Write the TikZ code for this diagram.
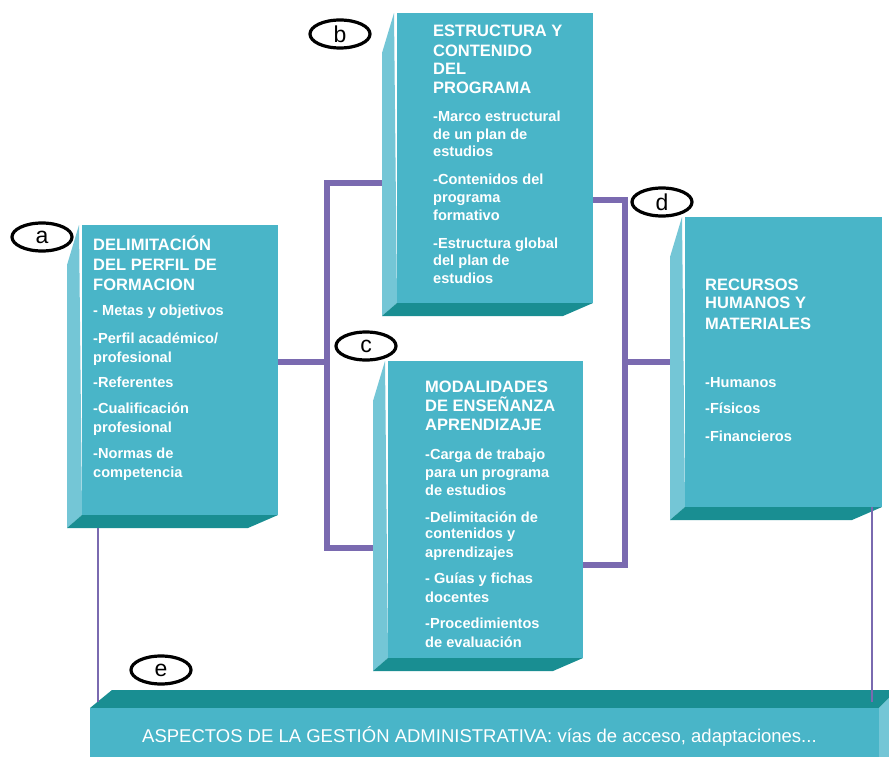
\documentclass[tikz,border=0pt]{standalone}
\usepackage{fontspec}
\setmainfont{Liberation Sans}
\usetikzlibrary{shapes.geometric}
\definecolor{frontc}{RGB}{73,181,200}
\definecolor{sidec}{RGB}{116,198,214}
\definecolor{bottomc}{RGB}{25,142,146}
\definecolor{connc}{RGB}{122,106,176}
\tikzset{
  frontface/.style={fill=frontc, draw=none, inner sep=0pt, outer sep=0pt},
  sideface/.style={fill=sidec},
  bottomface/.style={fill=bottomc},
  connline/.style={draw=connc, line width=5.5pt},
  thinconn/.style={draw=connc, line width=1.8pt},
  lab/.style={ellipse, draw=black, line width=3.2pt, fill=white, inner sep=0pt,
    minimum width=60pt, minimum height=28pt, font=\fontsize{23}{23}\selectfont},
  ttl/.style={anchor=base west, inner sep=0pt, text=white, font=\bfseries\fontsize{16.5}{18}\selectfont},
  itm/.style={anchor=base west, inner sep=0pt, text=white, font=\bfseries\fontsize{14.6}{16}\selectfont},
  bartext/.style={anchor=base west, inner sep=0pt, text=white, font=\fontsize{18.5}{20}\selectfont}
}
\newcommand\prismbox[5]{%
  \fill[sideface] (#2-3,#3) -- (#2-15,#3+40) -- (#2-15,#5+13) -- (#2,#5) -- cycle;
  \fill[bottomface] (#2,#5) -- (#4,#5) -- (#4-30,#5+13) -- (#2-15,#5+13) -- cycle;
  \node[frontface, minimum width={(#4-#2)*1pt}, minimum height={(#5-#3)*1pt}] (#1) at ({(#2+#4)/2},{(#3+#5)/2}) {};
}
\begin{document}
\begin{tikzpicture}[x=1pt,y=-1pt]
\useasboundingbox[fill=white] (0,0) rectangle (889,757);

% boxes
\prismbox{a}{82}{225}{278}{515}
\prismbox{b}{397}{13}{593}{303}
\prismbox{c}{388}{361}{583}{658}
\prismbox{d}{685}{217}{882}{507}

% bottom bar
\fill[bottomface] (90,708) -- (112,690) -- (889,690) -- (889,698) -- (879,708) -- cycle;
\fill[sideface] (879,708) -- (889,698) -- (889,757) -- (879,757) -- cycle;
\node[frontface, minimum width=789pt, minimum height=49pt] (e) at (484.5,732.5) {};

% connectors
\coordinate (lt) at (327,183);
\coordinate (lm) at (327,362);
\coordinate (lb) at (327,548);
\coordinate (rt) at (625,200);
\coordinate (rm) at (625,362);
\coordinate (rb) at (625,565);
\draw[connline] ([xshift=-15pt,yshift=-25pt]b.west) -- (lt) -- (lb) -- ([xshift=-15pt,yshift=-38.5pt]c.west);
\draw[connline] ([yshift=8pt]a.east) -- (lm);
\draw[connline] ([yshift=-42pt]b.east) -- (rt) -- (rb) -- ([yshift=-55.5pt]c.east);
\draw[connline] (rm) -- ([xshift=-15pt]d.west);
\draw[thinconn] ([xshift=16pt,yshift=-13pt]a.south west) -- ++(0,174);
\draw[thinconn] ([xshift=-10pt]d.south east) -- ++(0,195);

% labels
\node[lab] (la) at (42,237) {a};
\node[lab] (lbl) at (340,34) {b};
\node[lab] (lc) at (366,346) {c};
\node[lab] (ld) at (662,202) {d};
\node[lab] (le) at (161,670) {e};

% box a text
\node[ttl] (a1) at (93,250) {DELIMITACIÓN};
\node[ttl] (a2) at (93,270) {DEL PERFIL DE};
\node[ttl] (a3) at (93,290) {FORMACION};
\node[itm] (a4) at (93,315) {- Metas y objetivos};
\node[itm] (a5) at (93,343) {-Perfil académico/};
\node[itm] (a6) at (93,362) {profesional};
\node[itm] (a7) at (93,387) {-Referentes};
\node[itm] (a8) at (93,413) {-Cualificación};
\node[itm] (a9) at (93,432) {profesional};
\node[itm] (a10) at (93,458) {-Normas de};
\node[itm] (a11) at (93,477) {competencia};

% box b text
\node[ttl] (b1) at (433,37) {ESTRUCTURA Y};
\node[ttl] (b2) at (433,57) {CONTENIDO};
\node[ttl] (b3) at (433,75) {DEL};
\node[ttl] (b4) at (433,94) {PROGRAMA};
\node[itm] (b5) at (433,122) {-Marco estructural};
\node[itm] (b6) at (433,140) {de un plan de};
\node[itm] (b7) at (433,157) {estudios};
\node[itm] (b8) at (433,185) {-Contenidos del};
\node[itm] (b9) at (433,202) {programa};
\node[itm] (b10) at (433,220) {formativo};
\node[itm] (b11) at (433,248) {-Estructura global};
\node[itm] (b12) at (433,265) {del plan de};
\node[itm] (b13) at (433,283) {estudios};

% box c text
\node[ttl] (c1) at (425,392) {MODALIDADES};
\node[ttl] (c2) at (425,411) {DE ENSEÑANZA};
\node[ttl] (c3) at (425,430) {APRENDIZAJE};
\node[itm] (c4) at (425,459) {-Carga de trabajo};
\node[itm] (c5) at (425,477) {para un programa};
\node[itm] (c6) at (425,495) {de estudios};
\node[itm] (c7) at (425,522) {-Delimitación de};
\node[itm] (c8) at (425,538) {contenidos y};
\node[itm] (c9) at (425,557) {aprendizajes};
\node[itm] (c10) at (425,583) {- Guías y fichas};
\node[itm] (c11) at (425,602) {docentes};
\node[itm] (c12) at (425,628) {-Procedimientos};
\node[itm] (c13) at (425,647) {de evaluación};

% box d text
\node[ttl] (d1) at (705,290) {RECURSOS};
\node[ttl] (d2) at (705,308) {HUMANOS Y};
\node[ttl] (d3) at (705,329) {MATERIALES};
\node[itm] (d4) at (705,387) {-Humanos};
\node[itm] (d5) at (705,413) {-Físicos};
\node[itm] (d6) at (705,441) {-Financieros};

% bar text
\node[bartext] (et) at (142,742) {ASPECTOS DE LA GESTIÓN ADMINISTRATIVA: vías de acceso, adaptaciones...};
\end{tikzpicture}
\end{document}
